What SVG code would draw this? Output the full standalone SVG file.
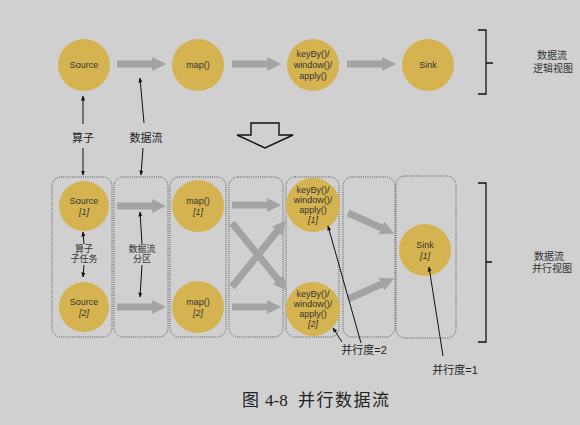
<svg xmlns="http://www.w3.org/2000/svg" width="580" height="425" viewBox="0 0 580 425">
  <style>
    .op { fill: #d5b350; }
    .lbl { font-family: "Liberation Sans", "Noto Sans CJK SC", sans-serif; font-size: 9px; fill: #333; text-anchor: middle; }
    .idx { font-style: italic; }
    .note { font-family: "Liberation Sans", "Noto Sans CJK SC", sans-serif; font-size: 11px; fill: #222; text-anchor: middle; }
    .lane { fill: none; stroke: #555; stroke-width: 1; stroke-dasharray: 1 1.2; }
    .flow { stroke: #a3a3a3; stroke-width: 7; fill: none; marker-end: url(#flowHead); }
    .ptr { stroke: #111; stroke-width: 1; fill: none; marker-end: url(#ptrHead); }
    .brace { stroke: #111; stroke-width: 1.3; fill: none; }
    .cap { font-family: "Liberation Serif", "Noto Sans CJK SC", serif; font-size: 17px; fill: #222; }
  </style>
  <defs>
    <marker id="flowHead" viewBox="0 0 10 10" refX="2" refY="5" markerWidth="2" markerHeight="2" markerUnits="strokeWidth" orient="auto">
      <path d="M0,0 L10,5 L0,10 Z" fill="#a3a3a3"/>
    </marker>
    <marker id="ptrHead" viewBox="0 0 10 10" refX="9" refY="5" markerWidth="5" markerHeight="5" markerUnits="userSpaceOnUse" orient="auto">
      <path d="M0,1 L10,5 L0,9 Z" fill="#111"/>
    </marker>
  </defs>

  <rect width="580" height="425" fill="#d0d0d0"/>

  <!-- logical view -->
  <g id="src"><circle class="op" cx="84" cy="65" r="26"/><text class="lbl" x="84" y="68">Source</text></g>
  <g id="map"><circle class="op" cx="198" cy="65" r="26"/><text class="lbl" x="198" y="68">map()</text></g>
  <g id="kwa"><circle class="op" cx="313" cy="65" r="26"/>
    <text class="lbl" x="313" y="57">keyBy()/</text><text class="lbl" x="313" y="68">window()/</text><text class="lbl" x="313" y="79">apply()</text></g>
  <g id="sink"><circle class="op" cx="428" cy="65" r="26"/><text class="lbl" x="428" y="68">Sink</text></g>

  <!-- parallel view lanes -->
  <g id="lanes">
    <rect class="lane" x="52" y="177" width="60" height="160" rx="9"/>
    <rect class="lane" x="114" y="177" width="54" height="160" rx="9"/>
    <rect class="lane" x="170" y="177" width="56" height="160" rx="9"/>
    <rect class="lane" x="229" y="177" width="54" height="160" rx="9"/>
    <rect class="lane" x="286" y="177" width="53" height="160" rx="9"/>
    <rect class="lane" x="343" y="177" width="52" height="160" rx="9"/>
    <rect class="lane" x="396" y="176" width="60" height="162" rx="9"/>
  </g>

  <g id="src1"><circle class="op" cx="84" cy="206" r="25"/><text class="lbl" x="84" y="204">Source</text><text class="lbl idx" x="84" y="215">[1]</text></g>
  <g id="src2"><circle class="op" cx="84" cy="307" r="25"/><text class="lbl" x="84" y="305">Source</text><text class="lbl idx" x="84" y="316">[2]</text></g>
  <g id="map1"><circle class="op" cx="198" cy="206" r="26"/><text class="lbl" x="198" y="204">map()</text><text class="lbl idx" x="198" y="215">[1]</text></g>
  <g id="map2"><circle class="op" cx="198" cy="307" r="26"/><text class="lbl" x="198" y="305">map()</text><text class="lbl idx" x="198" y="316">[2]</text></g>
  <g id="kwa1"><circle class="op" cx="313" cy="205" r="27"/>
    <text class="lbl" x="313" y="193">keyBy()/</text><text class="lbl" x="313" y="203">window()/</text><text class="lbl" x="313" y="213">apply()</text><text class="lbl idx" x="313" y="223">[1]</text></g>
  <g id="kwa2"><circle class="op" cx="313" cy="309" r="27"/>
    <text class="lbl" x="313" y="297">keyBy()/</text><text class="lbl" x="313" y="307">window()/</text><text class="lbl" x="313" y="317">apply()</text><text class="lbl idx" x="313" y="327">[2]</text></g>
  <g id="sink1"><circle class="op" cx="425" cy="250" r="26"/><text class="lbl" x="425" y="248">Sink</text><text class="lbl idx" x="425" y="259">[1]</text></g>

  <!-- connectors -->
  <g id="connectors">
    <line class="flow" x1="117" y1="64" x2="155" y2="64"/>
    <line class="flow" x1="232" y1="64" x2="270" y2="64"/>
    <line class="flow" x1="347" y1="64" x2="385" y2="64"/>

    <line class="flow" x1="117" y1="206" x2="155" y2="206"/>
    <line class="flow" x1="117" y1="307" x2="155" y2="307"/>
    <line class="flow" x1="232" y1="205" x2="270" y2="205"/>
    <line class="flow" x1="232" y1="307" x2="270" y2="307"/>
    <line class="flow" x1="232" y1="223" x2="280" y2="282"/>
    <line class="flow" x1="232" y1="287" x2="279" y2="229"/>
    <line class="flow" x1="348" y1="213" x2="384" y2="229"/>
    <line class="flow" x1="348" y1="299" x2="384" y2="283"/>

    <!-- pointer labels -->
    <line class="ptr" x1="83" y1="124" x2="83" y2="96"/>
    <line class="ptr" x1="144" y1="123" x2="140" y2="78"/>
    <line class="ptr" x1="83" y1="148" x2="83" y2="175"/>
    <line class="ptr" x1="143" y1="148" x2="141" y2="175"/>
    <line class="ptr" x1="84" y1="244" x2="83" y2="232"/>
    <line class="ptr" x1="84" y1="265" x2="83" y2="277"/>
    <line class="ptr" x1="142" y1="244" x2="140" y2="212"/>
    <line class="ptr" x1="142" y1="265" x2="140" y2="297"/>
    <line class="ptr" x1="342" y1="342" x2="333" y2="328"/>
    <line class="ptr" x1="361" y1="343" x2="328" y2="226"/>
    <line class="ptr" x1="443" y1="356" x2="429" y2="267"/>
  </g>

  <!-- transformation arrow -->
  <path d="M251,123 H279 V135 H293 L265,148 L237,135 H251 Z" fill="none" stroke="#111" stroke-width="1.4"/>

  <text class="note" x="83" y="142">算子</text>
  <text class="note" x="146" y="142">数据流</text>
  <text class="lbl" x="84" y="252">算子</text>
  <text class="lbl" x="84" y="262">子任务</text>
  <text class="lbl" x="142" y="252">数据流</text>
  <text class="lbl" x="142" y="262">分区</text>
  <text class="note" x="364" y="354">并行度=2</text>
  <text class="note" x="455" y="374">并行度=1</text>

  <!-- view braces -->
  <path class="brace" d="M478,30 H486 V63 L493,63 M486,63 V94 H478"/>
  <path class="brace" d="M478,183 H486 V262 L492,262 M486,262 V342 H478"/>
  <text class="lbl" x="552" y="59" style="font-size:10px">数据流</text>
  <text class="lbl" x="553" y="72" style="font-size:10px">逻辑视图</text>
  <text class="lbl" x="549" y="260" style="font-size:10px">数据流</text>
  <text class="lbl" x="552" y="272" style="font-size:10px">并行视图</text>

  <!-- figure caption -->
  <text class="cap" y="406"><tspan x="242">图</tspan><tspan x="265">4-8</tspan><tspan x="298" letter-spacing="1.5">并行数据流</tspan></text>
</svg>
